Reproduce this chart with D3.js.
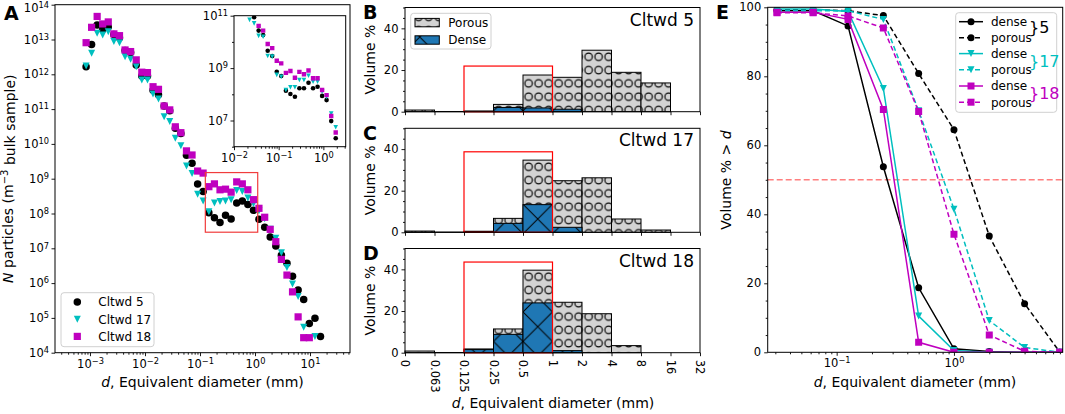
<!DOCTYPE html>
<html>
<head>
<meta charset="utf-8">
<script src="https://cdn.jsdelivr.net/npm/d3@7"></script>
<style>
body { margin: 0; background: #fff; }
svg text { font-family: "DejaVu Sans", sans-serif; }
</style>
</head>
<body>
<svg id="fig" width="1065" height="414"></svg>
<script>
// ---------- data : panel A (number of particles vs equivalent diameter) ----------
var gridD = [0.00085, 0.00107, 0.00135, 0.0017, 0.00215, 0.00272, 0.00344, 0.00434, 0.00548, 0.00693,
             0.00875, 0.0111, 0.014, 0.0176, 0.0223, 0.0282, 0.0356, 0.0449, 0.0568, 0.0717,
             0.0906, 0.114, 0.145, 0.183, 0.231, 0.291, 0.368, 0.465, 0.588, 0.742,
             0.938, 1.18, 1.5, 1.89, 2.39, 3.02, 3.81, 4.81, 6.08, 7.68,
             9.71, 12.3, 15.5];
var nCltwd5 = [1.66e12, 7.2e12, 2.6e13, 1.95e13, 2.3e13, 1.4e13, 1.12e13, 4.8e12, 4.2e12, 1.86e12,
               8.9e11, 8.9e11, 3.5e11, 2.6e11, 1.23e11, 8.9e10, 2.8e10, 2.0e10, 4.7e9, 2.8e9,
               7.1e8, 4.3e8, 1.05e8, 7.6e7, 5.5e7, 8.9e7, 6.9e7, 2.0e8, 2.3e8, 1.8e8,
               1.23e8, 6.8e7, 4.0e7, 2.1e7, 1.17e7, 6.3e6, 3.7e6, 1.58e6, 6.3e5, 3.4e5,
               6.9e4, 9.8e4, 2.9e4];
var nCltwd17 = [1.74e12, 4.0e12, 1.51e13, 1.35e13, 1.66e13, 8.7e12, 8.1e12, 3.2e12, 2.7e12, 1.66e12,
                6.9e11, 6.9e11, 2.7e11, 1.95e11, 6.0e10, 4.4e10, 1.45e10, 8.9e9, 2.3e9, 1.41e9,
                3.6e8, 2.3e8, 1.12e8, 2.0e8, 2.2e8, 2.3e8, 2.5e8, 4.6e8, 4.3e8, 2.8e8,
                1.9e8, 1.2e8, 7.1e7, 3.5e7, 1.95e7, 7.4e6, 2.8e6, 9.5e5, 4.1e5, 5.4e4,
                null, 2.9e4, null];
var nCltwd18 = [8.1e12, 2.24e13, 4.6e13, 2.8e13, 3.2e13, 1.45e13, 1.29e13, 5.0e12, 4.5e12, 2.6e12,
                1.15e12, 1.12e12, 4.4e11, 3.7e11, 1.23e11, 9.5e10, 3.1e10, 2.1e10, 6.3e9, 4.8e9,
                1.66e9, 1.45e9, 5.9e8, 7.1e8, 4.8e8, 5.0e8, 4.1e8, 8.1e8, 7.1e8, 4.8e8,
                2.5e8, 1.41e8, 7.8e7, 3.5e7, 1.55e7, 4.8e6, 1.7e6, 5.6e5, 1.07e5, 2.7e4,
                2.7e4, null, null];

// inset of panel A
var insetD = [0.0223, 0.0282, 0.0356, 0.0449, 0.0568, 0.0717, 0.0906, 0.114, 0.145, 0.183,
              0.231, 0.291, 0.368, 0.465, 0.588, 0.742, 0.938, 1.18, 1.5, 1.89];
var inset5 = [1.3e11, 8.7e10, 2.7e10, 1.82e10, 4.6e9, 2.9e9, 7.2e8, 5.0e8, 1.38e8, 1.02e8,
              8.1e7, 1.7e8, 1.7e8, 2.75e8, 1.7e8, 1.95e8, 8.7e7, 6.0e7, 9.5e6, 2.1e6];
var inset17 = [6.9e10, 5.1e10, 1.7e10, 1.58e10, 2.9e9, 2.75e9, 5.5e8, 4.7e8, 1.45e8, 1.86e8,
               1.86e8, 3.5e8, 3.5e8, 5.1e8, 3.0e8, 3.0e8, 1.26e8, 7.9e7, 1.86e7, 5.5e6];
var inset18 = [null, null, 4.1e10, 2.7e10, 8.3e9, 5.8e9, 1.9e9, 1.51e9, 6.6e8, 7.8e8,
               4.3e8, 7.2e8, 5.8e8, 8.1e8, 4.1e8, 4.1e8, 1.45e8, 9.3e7, 1.48e7, 3.5e6];

// ---------- data : panels B-D (volume % per sieve class) ----------
var binLabels = ["0", "0.063", "0.125", "0.25", "0.5", "1", "2", "4", "8", "16", "32"];
var porous5  = [0.8, 0.1, 0.3, 3.5, 17.6, 16.5, 29.5, 18.9, 13.8, 0];
var dense5   = [0, 0, 0.2, 2.0, 1.8, 1.2, 0, 0, 0, 0];
var porous17 = [0.6, 0.1, 0.3, 6.7, 34.7, 24.8, 26.2, 6.4, 1.1, 0];
var dense17  = [0, 0, 0.5, 4.3, 13.3, 2.4, 0, 0, 0, 0];
var porous18 = [0.8, 0.1, 1.8, 11.4, 39.6, 24.2, 18.7, 3.4, 0, 0];
var dense18  = [0, 0, 1.5, 8.8, 23.9, 1.0, 0, 0, 0, 0];
var boxTop   = [21.9, 38.7, 43.5];   // red boxes over 0.125-1 mm

// ---------- data : panel E (cumulative volume % > d) ----------
var cumD = [0.031, 0.063, 0.125, 0.25, 0.5, 1, 2, 4, 8];
var cumDense5   = [99, 99, 94.6, 53.8, 18.7, 1.0, 0.2, 0, 0];
var cumPorous5  = [99.3, 99.3, 99, 97.6, 80.8, 64.5, 33.7, 14.1, 0];
var cumDense17  = [99.5, 99.5, 98.8, 76.5, 10.5, 0.5, 0, 0, 0];
var cumPorous17 = [99, 99, 99, 96.5, 70, 41.5, 9.2, 1.4, 0];
var cumDense18  = [98.6, 98.6, 96.5, 70.4, 2.9, 0, 0, 0, 0];
var cumPorous18 = [98.4, 98.4, 97.5, 94, 69.8, 34.2, 5.0, 0.3, 0];

// ---------- helpers ----------
var BLACK = "#000", CYAN = "#00bfbf", MAG = "#bf00bf";
var svg = d3.select("#fig");
var defs = svg.append("defs");

function shapePath(shape, s) {
    var r = s / 2;
    if (shape == "circle") return d3.symbol().type(d3.symbolCircle).size(Math.PI * r * r)();
    if (shape == "square") return "M" + (-r) + "," + (-r) + "h" + s + "v" + s + "h" + (-s) + "Z";
    return "M" + (-r) + "," + (-r) + "L" + r + "," + (-r) + "L0," + r + "Z";   // triangle down
}

function supText(sel, exp) {
    sel.text(null);
    sel.append("tspan").text("10");
    sel.append("tspan").attr("dy", "-0.48em").attr("font-size", "0.72em")
        .text(exp < 0 ? "\u2212" + (-exp) : exp);
}

function logMinors(dom) {
    var out = [];
    for (var e = Math.floor(Math.log10(dom[0])); e <= Math.ceil(Math.log10(dom[1])); e++)
        for (var m = 2; m < 10; m++) {
            var v = m * Math.pow(10, e);
            if (v >= dom[0] && v <= dom[1]) out.push(v);
        }
    return out;
}

function styleAxis(g) {
    g.select(".domain").remove();
    g.attr("font-family", "DejaVu Sans, sans-serif").attr("font-size", 11.5);
    g.selectAll("line").attr("stroke", "#000").attr("stroke-width", 0.9);
    g.selectAll("text").attr("fill", "#000");
}

function frame(x, y, w, h) {
    svg.append("rect").attr("x", x).attr("y", y).attr("width", w).attr("height", h)
        .attr("fill", "none").attr("stroke", "#000").attr("stroke-width", 1);
}

function letter(t, x, y) {
    svg.append("text").attr("x", x).attr("y", y).attr("font-size", 19).attr("font-weight", "bold").text(t);
}

function scatter(g, xs, ys, shape, color, size, x, y) {
    var pts = xs.map(function(d, i) { return {d: d, n: ys[i]}; }).filter(function(p) { return p.n != null; });
    g.selectAll(null).data(pts).enter().append("path")
        .attr("d", shapePath(shape, size))
        .attr("transform", function(p) { return "translate(" + x(p.d) + "," + y(p.n) + ")"; })
        .attr("fill", color);
}

// ================= panel A =================
var xA = d3.scaleLog().domain([Math.pow(10, -3.636), Math.pow(10, 1.727)]).range([55, 350]);
var yA = d3.scaleLog().domain([1e4, 1e14]).range([352.7, 4.7]);

var gxA = svg.append("g").attr("transform", "translate(0,352.7)");
gxA.call(d3.axisBottom(xA).tickValues([1e-3, 1e-2, 1e-1, 1, 10]).tickSize(3.5).tickPadding(3.5));
styleAxis(gxA);
gxA.selectAll(".tick text").each(function(d) { supText(d3.select(this), Math.round(Math.log10(d))); });
var gxAm = svg.append("g").attr("transform", "translate(0,352.7)");
gxAm.call(d3.axisBottom(xA).tickValues(logMinors(xA.domain())).tickSize(2).tickFormat(""));
styleAxis(gxAm);

var gyA = svg.append("g").attr("transform", "translate(55,0)");
gyA.call(d3.axisLeft(yA).tickValues(d3.range(4, 15).map(function(e) { return Math.pow(10, e); }))
    .tickSize(3.5).tickPadding(2.5));
styleAxis(gyA);
gyA.selectAll(".tick text").each(function(d) { supText(d3.select(this), Math.round(Math.log10(d))); });
gyA.selectAll(".tick text").filter(function(d) { return d > 5e13; }).attr("dy", "0.62em");

var gA = svg.append("g");
scatter(gA, gridD, nCltwd5, "circle", BLACK, 7.5, xA, yA);
scatter(gA, gridD, nCltwd17, "tri", CYAN, 7, xA, yA);
scatter(gA, gridD, nCltwd18, "square", MAG, 7.2, xA, yA);

// red box
svg.append("rect").attr("x", xA(0.125)).attr("y", yA(1.5e9))
    .attr("width", xA(1.12) - xA(0.125)).attr("height", yA(2.9e7) - yA(1.5e9))
    .attr("fill", "none").attr("stroke", "#f03c3c").attr("stroke-width", 1.2);
frame(55, 4.7, 295, 348);

// legend A
var legA = svg.append("g");
legA.append("rect").attr("x", 61).attr("y", 292.7).attr("width", 93).attr("height", 54)
    .attr("rx", 3).attr("fill", "#fff").attr("fill-opacity", 0.85).attr("stroke", "#d0d0d0");
[["Cltwd 5", "circle", BLACK, 7.5], ["Cltwd 17", "tri", CYAN, 7], ["Cltwd 18", "square", MAG, 7.2]]
    .forEach(function(e, i) {
        var yy = 302 + i * 17.2;
        legA.append("path").attr("d", shapePath(e[1], e[3])).attr("fill", e[2])
            .attr("transform", "translate(77.3," + yy + ")");
        legA.append("text").attr("x", 98.3).attr("y", yy).attr("dy", "0.36em")
            .attr("font-size", 12).text(e[0]);
    });

// inset
var xI = d3.scaleLog().domain([1e-2, Math.pow(10, 0.5)]).range([234, 345.7]);
var yI = d3.scaleLog().domain([1e6, 1e11]).range([146.7, 15.7]);
svg.append("rect").attr("x", 234).attr("y", 15.7).attr("width", 111.7).attr("height", 131).attr("fill", "#fff");
defs.append("clipPath").attr("id", "clipI").append("rect")
    .attr("x", 234).attr("y", 15.7).attr("width", 111.7).attr("height", 131);
var gI = svg.append("g").attr("clip-path", "url(#clipI)");
scatter(gI, insetD, inset5, "circle", BLACK, 4.6, xI, yI);
scatter(gI, insetD, inset17, "tri", CYAN, 4.6, xI, yI);
scatter(gI, insetD, inset18, "square", MAG, 4.4, xI, yI);

var gxI = svg.append("g").attr("transform", "translate(0,146.7)");
gxI.call(d3.axisBottom(xI).tickValues([1e-2, 1e-1, 1]).tickSize(3.5).tickPadding(3.5));
styleAxis(gxI);
gxI.selectAll(".tick text").each(function(d) { supText(d3.select(this), Math.round(Math.log10(d))); });
var gxIm = svg.append("g").attr("transform", "translate(0,146.7)");
gxIm.call(d3.axisBottom(xI).tickValues(logMinors(xI.domain())).tickSize(2).tickFormat(""));
styleAxis(gxIm);
var gyI = svg.append("g").attr("transform", "translate(234,0)");
gyI.call(d3.axisLeft(yI).tickValues([1e7, 1e9, 1e11]).tickSize(3.5).tickPadding(2.5));
styleAxis(gyI);
gyI.selectAll(".tick text").each(function(d) { supText(d3.select(this), Math.round(Math.log10(d))); });
var gyIm = svg.append("g").attr("transform", "translate(234,0)");
gyIm.call(d3.axisLeft(yI).tickValues([1e6, 1e8, 1e10]).tickSize(2).tickFormat(""));
styleAxis(gyIm);
frame(234, 15.7, 111.7, 131);

// labels A
var ylA = svg.append("text").attr("transform", "translate(13,178.7) rotate(-90)")
    .attr("text-anchor", "middle").attr("font-size", 14);
ylA.append("tspan").attr("font-style", "italic").text("N");
ylA.append("tspan").text(" particles (m");
ylA.append("tspan").attr("dy", "-0.5em").attr("font-size", "0.72em").text("\u22123");
ylA.append("tspan").attr("dy", "0.5em").text(" bulk sample)");
var xlA = svg.append("text").attr("x", 202.5).attr("y", 387).attr("text-anchor", "middle").attr("font-size", 14);
xlA.append("tspan").attr("font-style", "italic").text("d");
xlA.append("tspan").text(", Equivalent diameter (mm)");
letter("A", 4, 20);

// ================= panels B-D =================
var xB = d3.scaleLinear().domain([0, 10]).range([405, 700]);
var panelsBD = [
    {title: "Cltwd 5", letter: "B", porous: porous5, dense: dense5, top: 7.5, bottom: 111.7, box: boxTop[0],
     rowY: 96.7, crossY: 96},
    {title: "Cltwd 17", letter: "C", porous: porous17, dense: dense17, top: 128.3, bottom: 232.3, box: boxTop[1],
     rowY: 220, crossY: 219},
    {title: "Cltwd 18", letter: "D", porous: porous18, dense: dense18, top: 248.5, bottom: 352.7, box: boxTop[2],
     rowY: 290, crossY: 326.7}
];

// hatch patterns, one pair per panel so the marks sit where the reference has them
panelsBD.forEach(function(p, pi) {
    var pp = defs.append("pattern").attr("id", "porous" + pi).attr("patternUnits", "userSpaceOnUse")
        .attr("x", 403.6).attr("y", p.rowY - 6.65).attr("width", 10).attr("height", 13.3);
    pp.append("rect").attr("width", 10).attr("height", 13.3).attr("fill", "#d3d3d3");
    pp.append("circle").attr("cx", 5).attr("cy", 6.65).attr("r", 3.7)
        .attr("fill", "none").attr("stroke", "#000").attr("stroke-width", 1.15);
    var dp = defs.append("pattern").attr("id", "dense" + pi).attr("patternUnits", "userSpaceOnUse")
        .attr("x", 405).attr("y", p.crossY - 14.75).attr("width", 29.5).attr("height", 29.5);
    dp.append("rect").attr("width", 29.5).attr("height", 29.5).attr("fill", "#1f77b4");
    dp.append("path").attr("d", "M0,0L29.5,29.5M29.5,0L0,29.5")
        .attr("stroke", "#000").attr("stroke-width", 1);
});

panelsBD.forEach(function(p, pi) {
    var y = d3.scaleLinear().domain([0, 50]).range([p.bottom, p.top]);
    var g = svg.append("g");
    var idx = d3.range(p.porous.length);
    g.selectAll(null).data(idx.filter(function(i) { return p.porous[i] > 0; })).enter().append("rect")
        .attr("x", function(i) { return xB(i); }).attr("width", xB(1) - xB(0))
        .attr("y", function(i) { return y(p.porous[i]); })
        .attr("height", function(i) { return y(0) - y(p.porous[i]); })
        .attr("fill", "url(#porous" + pi + ")").attr("stroke", "#000").attr("stroke-width", 1);
    g.selectAll(null).data(idx.filter(function(i) { return p.dense[i] > 0; })).enter().append("rect")
        .attr("x", function(i) { return xB(i); }).attr("width", xB(1) - xB(0))
        .attr("y", function(i) { return y(p.dense[i]); })
        .attr("height", function(i) { return y(0) - y(p.dense[i]); })
        .attr("fill", "url(#dense" + pi + ")").attr("stroke", "#000").attr("stroke-width", 1);
    // red box
    g.append("rect").attr("x", xB(2)).attr("y", y(p.box)).attr("width", xB(5) - xB(2))
        .attr("height", y(0) - y(p.box)).attr("fill", "none").attr("stroke", "red").attr("stroke-width", 1.2);

    var gy = svg.append("g").attr("transform", "translate(405,0)");
    gy.call(d3.axisLeft(y).tickValues([0, 20, 40]).tickSize(3.5).tickPadding(3));
    styleAxis(gy);
    var gym = svg.append("g").attr("transform", "translate(405,0)");
    gym.call(d3.axisLeft(y).tickValues(d3.range(0, 51, 5).filter(function(v) { return v % 20 != 0; }))
        .tickSize(2).tickFormat(""));
    styleAxis(gym);

    var gx = svg.append("g").attr("transform", "translate(0," + p.bottom + ")");
    gx.call(d3.axisBottom(xB).tickValues(d3.range(0, 11)).tickSize(3.5).tickFormat(""));
    styleAxis(gx);
    if (pi == 2) {
        gx.selectAll(".tick").append("text")
            .attr("transform", "translate(0,7) rotate(90)")
            .attr("dy", "0.36em").attr("text-anchor", "start").attr("fill", "#000")
            .text(function(d) { return binLabels[d]; });
    }
    frame(405, p.top, 295, p.bottom - p.top);

    svg.append("text").attr("x", 694).attr("y", p.top + 18).attr("text-anchor", "end")
        .attr("font-size", 17).text(p.title);
    svg.append("text").attr("transform", "translate(375," + ((p.top + p.bottom) / 2) + ") rotate(-90)")
        .attr("text-anchor", "middle").attr("font-size", 14).text("Volume %");
    letter(p.letter, 363, p.top + 11.5);
});

// legend B
var legB = svg.append("g");
legB.append("rect").attr("x", 410.7).attr("y", 13.3).attr("width", 80.3).attr("height", 35.7)
    .attr("rx", 3).attr("fill", "#fff").attr("stroke", "#d0d0d0");
legB.append("rect").attr("x", 415).attr("y", 18.4).attr("width", 24.3).attr("height", 8.4)
    .attr("fill", "url(#porous0)").attr("stroke", "#000");
legB.append("rect").attr("x", 415).attr("y", 35.8).attr("width", 24.3).attr("height", 8.4)
    .attr("fill", "url(#dense0)").attr("stroke", "#000");
legB.append("text").attr("x", 448.3).attr("y", 22.6).attr("dy", "0.36em").attr("font-size", 12).text("Porous");
legB.append("text").attr("x", 448.3).attr("y", 40).attr("dy", "0.36em").attr("font-size", 12).text("Dense");

var xlB = svg.append("text").attr("x", 553).attr("y", 408).attr("text-anchor", "middle").attr("font-size", 14);
xlB.append("tspan").attr("font-style", "italic").text("d");
xlB.append("tspan").text(", Equivalent diameter (mm)");

// ================= panel E =================
var xE = d3.scaleLog().domain([Math.pow(10, -1.588), Math.pow(10, 0.927)]).range([767.7, 1062.7]);
var yE = d3.scaleLinear().domain([0, 100]).range([352.3, 7.3]);

var gxE = svg.append("g").attr("transform", "translate(0,352.3)");
gxE.call(d3.axisBottom(xE).tickValues([0.1, 1]).tickSize(3.5).tickPadding(3.5));
styleAxis(gxE);
gxE.selectAll(".tick text").each(function(d) { supText(d3.select(this), Math.round(Math.log10(d))); });
var gxEm = svg.append("g").attr("transform", "translate(0,352.3)");
gxEm.call(d3.axisBottom(xE).tickValues(logMinors(xE.domain())).tickSize(2).tickFormat(""));
styleAxis(gxEm);
var gyE = svg.append("g").attr("transform", "translate(767.7,0)");
gyE.call(d3.axisLeft(yE).tickValues(d3.range(0, 101, 20)).tickSize(3.5).tickPadding(3));
styleAxis(gyE);
var gyEm = svg.append("g").attr("transform", "translate(767.7,0)");
gyEm.call(d3.axisLeft(yE).tickValues(d3.range(0, 101, 5).filter(function(v) { return v % 20 != 0; }))
    .tickSize(2).tickFormat(""));
styleAxis(gyEm);

svg.append("line").attr("x1", 767.7).attr("x2", 1062.7).attr("y1", yE(50)).attr("y2", yE(50))
    .attr("stroke", "#ff7f7f").attr("stroke-width", 1.4).attr("stroke-dasharray", "6,3");

var seriesE = [
    {v: cumDense5, c: BLACK, s: "circle", dash: null, size: 7},
    {v: cumPorous5, c: BLACK, s: "circle", dash: "5,3", size: 7},
    {v: cumDense17, c: CYAN, s: "tri", dash: null, size: 7},
    {v: cumPorous17, c: CYAN, s: "tri", dash: "5,3", size: 7},
    {v: cumDense18, c: MAG, s: "square", dash: null, size: 7},
    {v: cumPorous18, c: MAG, s: "square", dash: "5,3", size: 7}
];
defs.append("clipPath").attr("id", "clipE").append("rect")
    .attr("x", 767.7).attr("y", 7.3).attr("width", 295).attr("height", 345);
var gE = svg.append("g").attr("clip-path", "url(#clipE)");
var lineE = d3.line().x(function(p) { return xE(p[0]); }).y(function(p) { return yE(p[1]); });
seriesE.forEach(function(s) {
    var pts = cumD.map(function(d, i) { return [d, s.v[i]]; });
    gE.append("path").attr("d", lineE(pts)).attr("fill", "none").attr("stroke", s.c)
        .attr("stroke-width", 1.5).attr("stroke-dasharray", s.dash);
    gE.selectAll(null).data(pts).enter().append("path").attr("d", shapePath(s.s, s.size))
        .attr("transform", function(p) { return "translate(" + xE(p[0]) + "," + yE(p[1]) + ")"; })
        .attr("fill", s.c);
});
frame(767.7, 7.3, 295, 345);

// legend E
var legE = svg.append("g");
legE.append("rect").attr("x", 955.7).attr("y", 12.7).attr("width", 101).attr("height", 99.6)
    .attr("rx", 3).attr("fill", "#fff").attr("fill-opacity", 0.85).attr("stroke", "#d0d0d0");
var legRows = [21.7, 37.7, 53.6, 69.8, 86, 102.2];
seriesE.forEach(function(s, i) {
    var yy = legRows[i];
    legE.append("line").attr("x1", 959).attr("x2", 983).attr("y1", yy).attr("y2", yy)
        .attr("stroke", s.c).attr("stroke-width", 1.5).attr("stroke-dasharray", s.dash);
    legE.append("path").attr("d", shapePath(s.s, s.size)).attr("fill", s.c)
        .attr("transform", "translate(971," + yy + ")");
    legE.append("text").attr("x", 991).attr("y", yy).attr("dy", "0.36em").attr("font-size", 12)
        .text(i % 2 == 0 ? "dense" : "porous");
});
[["}5", BLACK, 27.5], ["}17", CYAN, 61], ["}18", MAG, 93]].forEach(function(b) {
    legE.append("text").attr("x", 1029).attr("y", b[2]).attr("dy", "0.36em").attr("font-size", 16)
        .attr("fill", b[1]).text(b[0]);
});

var ylE = svg.append("text").attr("transform", "translate(731,180) rotate(-90)")
    .attr("text-anchor", "middle").attr("font-size", 14);
ylE.append("tspan").text("Volume % > ");
ylE.append("tspan").attr("font-style", "italic").text("d");
var xlE = svg.append("text").attr("x", 915).attr("y", 387).attr("text-anchor", "middle").attr("font-size", 14);
xlE.append("tspan").attr("font-style", "italic").text("d");
xlE.append("tspan").text(", Equivalent diameter (mm)");
letter("E", 716, 19);
</script>
</body>
</html>
